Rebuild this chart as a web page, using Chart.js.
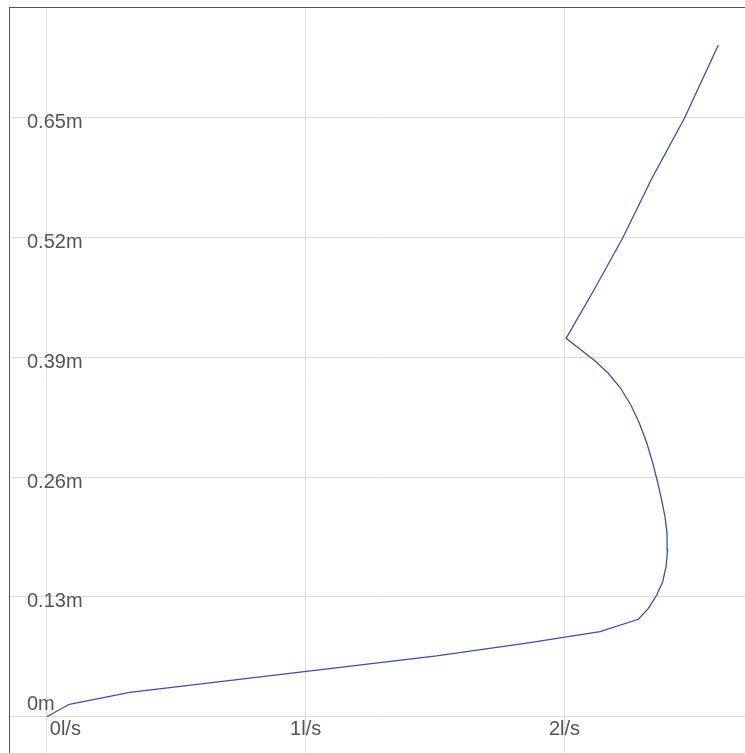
<!DOCTYPE html>
<html>
<head>
<meta charset="utf-8">
<script src="https://cdn.jsdelivr.net/npm/chart.js@4.4.1/dist/chart.umd.min.js"></script>
<style>
    html, body { margin: 0; padding: 0; background: #fff; overflow: hidden; }
    #wrap {
        position: absolute; left: 9px; top: 7px;
        width: 735px; height: 745px;
        border-left: 1px solid #555; border-top: 1px solid #555;
    }
</style>
</head>
<body>
<div id="wrap"><canvas id="flowChart"></canvas></div>
<script>
// Flow (l/s) against height (m)
const flowValues = [0, 0.087, 0.321, 1.506, 1.867, 2.137, 2.285, 2.324, 2.356, 2.379, 2.392, 2.398,
    2.396, 2.388, 2.375, 2.359, 2.341, 2.318, 2.289, 2.256, 2.214, 2.169, 2.118, 2.060, 2.006,
    2.118, 2.225, 2.338, 2.463, 2.594];
const heightValues = [0, 0.0135, 0.0265, 0.0659, 0.0803, 0.0922, 0.1057, 0.1176, 0.1321, 0.1465, 0.1628, 0.1809,
    0.1990, 0.2170, 0.2352, 0.2550, 0.2750, 0.2967, 0.3184, 0.3383, 0.3575, 0.3727, 0.3860, 0.3987, 0.4106,
    0.4652, 0.5198, 0.5846, 0.6494, 0.7289];

const flowTicks = [0, 1, 2];
const heightTicks = [0, 0.13, 0.26, 0.39, 0.52, 0.65];

// axes sit inside the plot: they take no room and leave no label padding
const noRoom = (scale) => {
    if (scale.isHorizontal()) scale.height = 0; else scale.width = 0;
    scale.paddingLeft = scale.paddingRight = scale.paddingTop = scale.paddingBottom = 0;
};

// x tick labels go just under the 0m line, the first one nudged right of the 0 line
const flowLabels = {
    id: 'flowLabels',
    afterDraw(chart) {
        const { ctx, scales: { x, y } } = chart;
        const base = y.getPixelForValue(0);
        ctx.save();
        ctx.font = "20px 'Liberation Sans', Arial, sans-serif";
        ctx.fillStyle = '#555';
        ctx.textBaseline = 'middle';
        flowTicks.forEach((v, i) => {
            const px = x.getPixelForValue(v);
            ctx.textAlign = i === 0 ? 'left' : 'center';
            ctx.fillText(v + 'l/s', i === 0 ? px + 3 : px, base + 13);
        });
        ctx.restore();
    }
};

document.addEventListener("DOMContentLoaded", () => {
    const labelFont = { family: "'Liberation Sans', Arial, sans-serif", size: 20 };
    const gridColor = '#dcdcdc';

    const points = flowValues.map((x, i) => ({ x: x, y: heightValues[i] }));

    new Chart(document.getElementById('flowChart').getContext('2d'), {
        type: 'scatter',
        data: {
            datasets: [{
                data: points,
                showLine: true,
                borderColor: '#3f4daa',
                borderWidth: 1.3,
                pointRadius: 0,
                pointHoverRadius: 0,
                tension: 0
            }]
        },
        options: {
            responsive: true,
            maintainAspectRatio: false,
            animation: false,
            layout: { padding: 0 },
            plugins: { legend: { display: false }, tooltip: { enabled: false } },
            scales: {
                x: {
                    type: 'linear',
                    position: 'bottom',
                    min: -0.142,
                    max: 2.697,
                    afterBuildTicks: (scale) => {
                        scale.ticks = flowTicks.map(v => ({ value: v }));
                    },
                    afterFit: noRoom,
                    border: { display: false },
                    grid: { color: gridColor, drawTicks: false },
                    ticks: { display: false, autoSkip: false, maxRotation: 0 }
                },
                y: {
                    type: 'linear',
                    position: 'left',
                    min: -0.0394,
                    max: 0.7691,
                    afterBuildTicks: (scale) => {
                        scale.ticks = heightTicks.map(v => ({ value: v }));
                    },
                    afterFit: noRoom,
                    border: { display: false },
                    grid: { color: gridColor, drawTicks: false },
                    ticks: {
                        autoSkip: false,
                        mirror: true,
                        padding: 17,
                        labelOffset: 5,
                        color: '#555',
                        // the 0m label sits above its line, pushed up with an empty second line
                        font: (ctx) => ({ ...labelFont, lineHeight: (ctx.tick && ctx.tick.value === 0) ? '34px' : 1.2 }),
                        callback: (val) => val === 0 ? ['0m', ''] : val + 'm'
                    }
                }
            }
        },
        plugins: [flowLabels]
    });
});
</script>
</body>
</html>
